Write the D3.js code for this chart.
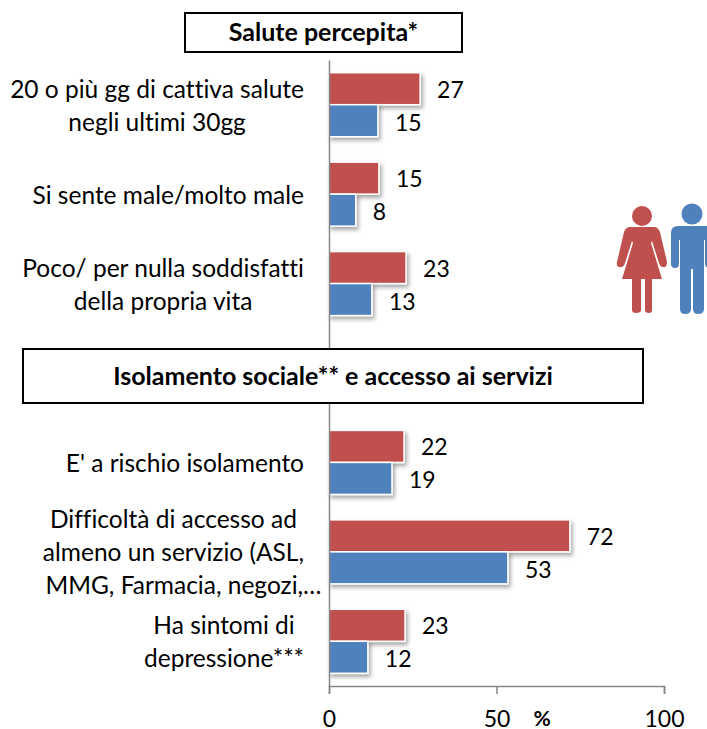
<!DOCTYPE html>
<html lang="en">
<head>
  <meta charset="UTF-8">
  <title>Salute percepita e isolamento sociale</title>
  <style>
    html, body { margin: 0; padding: 0; background: #fff; }
    svg { display: block; }
    text { font-family: Lato, sans-serif; fill: #000; font-variant-ligatures: none; }
    .axis path, .axis line { stroke: #868686; stroke-width: 1.5px; }
    .axis text { font-family: Lato, sans-serif; font-size: 23px; fill: #000; }
  </style>
</head>
<body>
  <svg id="chart" width="707" height="729"></svg>
  <script src="https://d3js.org/d3.v7.min.js"></script>
  <script>
    // the empty category leaves room for the second title box
    const categories = ['cattiva', 'male', 'soddisfatti', 'blank', 'isolamento', 'accesso', 'depressione']
    const categoryLabels = [
      ['20 o più gg di cattiva salute', 'negli ultimi 30gg'],
      ['Si sente male/molto male'],
      ['Poco/ per nulla soddisfatti', 'della propria vita'],
      [],
      ["E' a rischio isolamento"],
      ['Difficoltà di accesso ad', 'almeno un servizio (ASL,', 'MMG, Farmacia, negozi,…'],
      ['Ha sintomi di', 'depressione***']
    ]
    // bar lengths, labels show them rounded
    const femaleValues = [27.2, 14.9, 23, null, 22.4, 71.9, 22.7]
    const maleValues = [14.6, 8, 12.8, null, 18.8, 53.4, 11.6]
    const tickValues = [0, 50, 100]

    const red = '#C0504D'
    const blue = '#4F81BD'

    const svg = d3.select('#chart')

    const x = d3.scaleLinear().domain([0, 100]).range([329, 664])
    const y = d3.scaleBand().domain(categories).range([60, 686])
    const barHeight = 32

    const defs = svg.append('defs')
    const shadow = defs.append('filter')
      .attr('id', 'shadow')
      .attr('x', '-10%').attr('y', '-20%')
      .attr('width', '130%').attr('height', '150%')
    shadow.append('feDropShadow')
      .attr('dx', 2).attr('dy', 3)
      .attr('stdDeviation', 2)
      .attr('flood-color', '#000')
      .attr('flood-opacity', 0.35)

    const series = [
      { values: femaleValues, color: red, offset: -barHeight, labelShift: 1 },
      { values: maleValues, color: blue, offset: 0, labelShift: 2 }
    ]

    series.forEach(s => {
      const rows = categories
        .map((c, i) => ({ category: c, value: s.values[i] }))
        .filter(d => d.value !== null)

      svg.append('g').selectAll('rect')
        .data(rows)
        .enter()
        .append('rect')
        .attr('x', x(0))
        .attr('y', d => y(d.category) + y.bandwidth() / 2 + s.offset)
        .attr('width', d => x(d.value) - x(0))
        .attr('height', barHeight)
        .attr('fill', s.color)
        .attr('stroke', '#fff')
        .attr('stroke-width', 1.5)
        .attr('filter', 'url(#shadow)')

      svg.append('g').selectAll('text')
        .data(rows)
        .enter()
        .append('text')
        .attr('x', d => x(d.value) + 17)
        .attr('y', d => y(d.category) + y.bandwidth() / 2 + s.offset + barHeight / 2 + s.labelShift)
        .attr('dy', '0.35em')
        .attr('font-size', 23)
        .text(d => Math.round(d.value))
    })

    // vertical axis line, no ticks
    svg.append('g')
      .attr('class', 'axis')
      .attr('transform', `translate(${x(0)},0)`)
      .call(d3.axisLeft(y).tickSize(0).tickSizeOuter(0).tickFormat(''))

    svg.append('g')
      .attr('class', 'axis')
      .attr('transform', `translate(0,${y.range()[1]})`)
      .call(d3.axisBottom(x).tickValues(tickValues).tickSize(8).tickPadding(17))

    // category labels: centred lines, block right edge on 304
    // a truncated line hangs its ellipsis past that edge, as in the original
    categories.forEach((c, i) => {
      const lines = categoryLabels[i]
      if (!lines.length) return
      const lineHeight = 33
      const label = svg.append('text')
        .attr('text-anchor', 'middle')
        .attr('font-size', 24.5)
      let width = 0
      lines.forEach((line, j) => {
        const tspan = label.append('tspan')
          .attr('x', 0)
          .attr('y', y(c) + y.bandwidth() / 2 + (j - (lines.length - 1) / 2) * lineHeight + 1)
          .attr('dy', '0.35em')
          .text(line)
        const length = tspan.node().getComputedTextLength()
        if (line.endsWith('…')) {
          tspan.attr('dx', 10)
          width = Math.max(width, length - 20)
        } else {
          width = Math.max(width, length)
        }
      })
      label.attr('transform', `translate(${304 - width / 2},0)`)
    })

    // title boxes
    const titles = [
      { text: 'Salute percepita*', x: 185, y: 13, w: 277, h: 39 },
      { text: 'Isolamento sociale** e accesso ai servizi', x: 23, y: 349, w: 620, h: 54 }
    ]
    titles.forEach(t => {
      svg.append('rect')
        .attr('x', t.x).attr('y', t.y)
        .attr('width', t.w).attr('height', t.h)
        .attr('fill', '#fff')
        .attr('stroke', '#000')
        .attr('stroke-width', 2)
      svg.append('text')
        .attr('x', t.x + t.w / 2)
        .attr('y', t.y + t.h / 2)
        .attr('dy', '0.35em')
        .attr('text-anchor', 'middle')
        .attr('font-size', 25)
        .attr('font-weight', 700)
        .text(t.text)
    })

    svg.append('text')
      .attr('x', 542)
      .attr('y', 726)
      .attr('text-anchor', 'middle')
      .attr('font-size', 21)
      .attr('font-weight', 700)
      .text('%')

    // woman icon
    const woman = svg.append('g').attr('fill', red)
    woman.append('circle').attr('cx', 642).attr('cy', 216).attr('r', 10)
    woman.append('path')
      .attr('d', 'M630 227 H654 Q658 227 660 232 L667 262 Q667 268 663 267 Q660 267 659 263 L652 241 L651 243 L662 279 H652 V310 Q652 313 649 313 Q645 313 645 310 V279 H641 V310 Q641 313 636 313 Q632 313 632 310 V279 H622 L633 243 L632 241 L625 263 Q624 267 621 267 Q616 268 617 262 L624 232 Q626 227 630 227 Z')

    // man icon, runs off the right edge
    const man = svg.append('g').attr('fill', blue)
    man.append('circle').attr('cx', 692).attr('cy', 214).attr('r', 10.5)
    man.append('path')
      .attr('d', 'M678 226 H706 Q713 226 713 233 V264 Q713 268 709 268 Q705 268 705 264 V240 H704 V309 Q704 314 698 314 Q693 314 693 309 V269 H691 V309 Q691 314 685 314 Q680 314 680 309 V240 H679 V264 Q679 268 675 268 Q671 268 671 264 V233 Q671 226 678 226 Z')
  </script>
</body>
</html>
